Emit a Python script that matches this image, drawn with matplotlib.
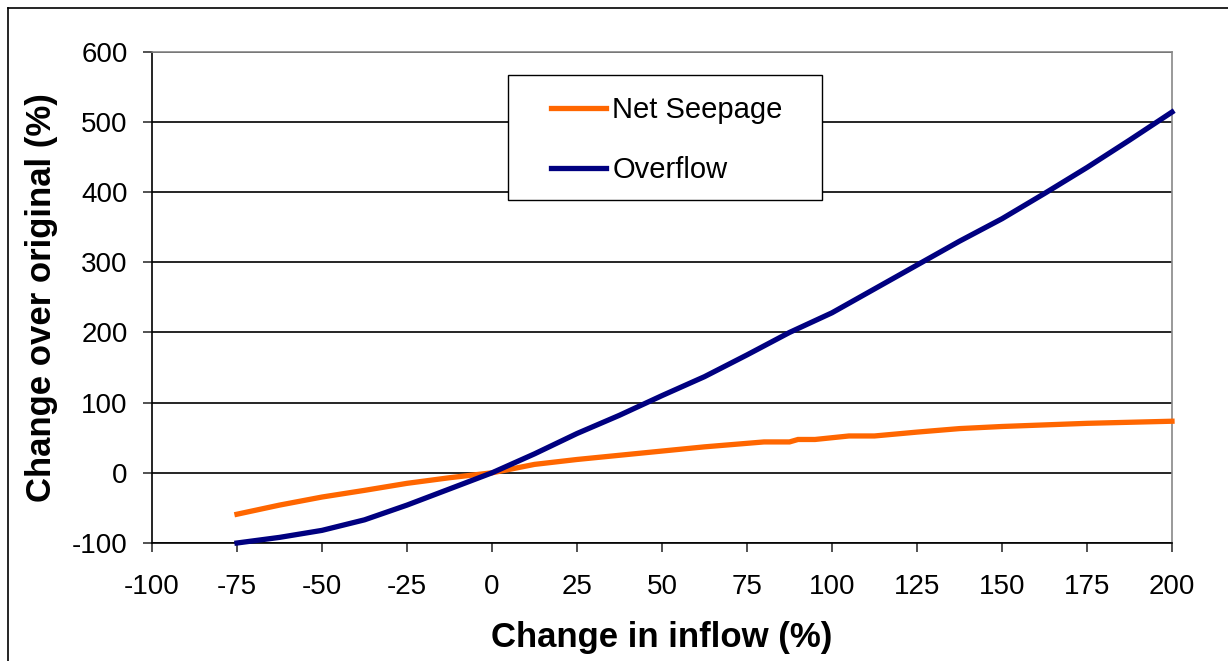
import matplotlib
matplotlib.use("Agg")
import matplotlib.pyplot as plt
from matplotlib.patches import Rectangle
from matplotlib.lines import Line2D

plt.rcParams['font.family'] = ['Liberation Sans', 'DejaVu Sans']
plt.rcParams['axes.unicode_minus'] = False

# Change in inflow (%)
seep_x = [-75, -62.5, -50, -37.5, -25, -12.5, 0, 12.5, 25, 37.5, 50, 62.5, 75,
          80, 87.5, 90, 95, 105, 112.5, 125, 137.5, 150, 175, 200]
# Net seepage change over original (%)
seep_y = [-59, -46, -34.5, -25, -15, -7, 0, 12, 19, 25, 31, 37, 42,
          44, 44, 47.5, 47.5, 52.5, 52.5, 58, 63, 66, 70.5, 73.5]

overflow_x = [-75, -62.5, -50, -37.5, -25, -12.5, 0, 12.5, 25, 37.5, 50, 62.5,
              75, 87.5, 100, 112.5, 125, 137.5, 150, 162.5, 175, 187.5, 200]
# Overflow change over original (%)
overflow_y = [-100, -92, -82, -67, -46, -23, 0, 27, 56, 82, 110, 137,
              168, 200, 228, 262, 296, 330, 362, 398, 435, 474, 514]

x_ticks = list(range(-100, 201, 25))
y_ticks = list(range(-100, 601, 100))

W, H = 1228, 661
fig = plt.figure(figsize=(W / 100, H / 100), dpi=100)
fig.patch.set_facecolor('white')

ax = fig.add_axes([152 / W, 1 - 543 / H, (1172 - 152) / W, (543 - 51.7) / H])

ax.plot(seep_x, seep_y, color='#FF6600', lw=3.8, solid_joinstyle='miter',
        label='Net Seepage', zorder=3, clip_on=False)
ax.plot(overflow_x, overflow_y, color='#000080', lw=3.8, solid_joinstyle='miter',
        label='Overflow', zorder=4, clip_on=False)

ax.set_xlim(-100, 200)
ax.set_ylim(-100, 600)
ax.set_xticks(x_ticks)
ax.set_yticks(y_ticks)
ax.tick_params(axis='both', labelsize=20, length=6.5, width=1.2, color='#333333',
               direction='out')
ax.tick_params(axis='y', pad=11)
ax.tick_params(axis='x', pad=16)

ax.grid(axis='y', color='black', lw=1.2, zorder=1)
ax.set_axisbelow(True)
for s in ['left', 'bottom']:
    ax.spines[s].set_color('black')
    ax.spines[s].set_linewidth(1.2)
for s in ['right', 'top']:
    ax.spines[s].set_color('#888888')
    ax.spines[s].set_linewidth(1.2)

ax.set_xlabel('Change in inflow (%)', fontsize=25, fontweight='bold', labelpad=15)
ax.set_ylabel('Change over original (%)', fontsize=25, fontweight='bold', labelpad=10)

# legend box
fig.patches.append(Rectangle((508 / W, 1 - 200 / H), (822 - 508) / W, (200 - 75) / H,
                             transform=fig.transFigure, facecolor='white',
                             edgecolor='black', lw=1.0, zorder=5))
leg = fig.legend(loc='upper left', bbox_to_anchor=(551 / W, 1 - 96 / H),
                 frameon=False, fontsize=21, handlelength=1.9, handletextpad=0.2,
                 labelspacing=1.1, borderpad=0, borderaxespad=0)
leg.set_zorder(6)

# outer chart frame
fig.add_artist(Line2D([8 / W, 8 / W], [1 - 8 / H, 0], transform=fig.transFigure,
                      color='black', lw=1.2))
fig.add_artist(Line2D([8 / W, 1], [1 - 8 / H, 1 - 8 / H], transform=fig.transFigure,
                      color='black', lw=1.2))

fig.savefig('out.png', dpi=100, facecolor='white')
